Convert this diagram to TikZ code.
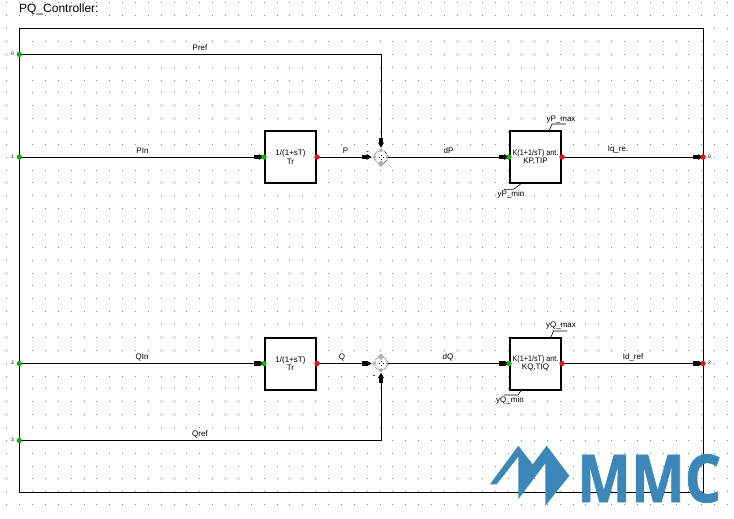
\documentclass[tikz,border=0pt]{standalone}
\usepackage{graphicx}
\usepackage{fontspec}
\setmainfont{Liberation Sans}
\newfontfamily\logofont[BoldFeatures={FakeBold=1.2}]{Open Sans}
\usetikzlibrary{arrows.meta,shapes.geometric}
\definecolor{logoblue}{HTML}{3A87B8}
\definecolor{inport}{HTML}{10B010}
\definecolor{outport}{HTML}{F01010}
\tikzset{
  wire/.style={line width=0.9pt,black},
  sig/.style={wire,-{Square[length=5pt,width=4.5pt,sep=0pt]Triangle[length=5pt,width=5.5pt]}},
  blockbox/.style={draw=black,line width=2pt,fill=white,minimum width=51pt,minimum height=52pt,inner sep=0pt,align=center,font=\fontsize{8}{8.6}\selectfont},
  port/.style={circle,inner sep=0pt,minimum size=5pt,fill=#1},
  lab/.style={inner sep=0pt,font=\fontsize{8}{9}\selectfont},
  tiny/.style={inner sep=0pt,font=\fontsize{5}{6}\selectfont},
  griddot/.style={fill=black!50},
  sumbody/.style={circle,draw=black,densely dotted,line width=0.6pt,fill=white,minimum size=13pt,inner sep=0pt},
  sumport/.style={diamond,fill=black!30,inner sep=0pt,minimum size=4.5pt},
  sumfree/.style={diamond,fill=black!30,inner sep=0pt,minimum size=7pt},
  leader/.style={line width=0.6pt,black},
}
\begin{document}
\begin{tikzpicture}[x=1pt,y=-1pt]
\useasboundingbox (0,0) rectangle (734,519);
\fill[white] (0,0) rectangle (734,519);
% drawing sheet grid
\foreach \i in {0,...,56}
  \foreach \j in {0,...,39}
    \fill[griddot] ({6.7+12.87*\i-0.4},{2.7+12.87*\j-0.4}) rectangle +(0.8,0.8);

\node[anchor=west,inner sep=0pt,font=\fontsize{12}{14}\selectfont] (title) at (19,9.5) {PQ\_Controller:};

% frame
\coordinate (fTL) at (19.3,28.3);
\coordinate (fTR) at (703,28.3);
\coordinate (fBR) at (703,492);
\coordinate (fBL) at (19.3,492);
\draw[wire] (fTL) -- (fTR) -- (fBR) -- (fBL) -- cycle;

% blocks
\node[blockbox] (tp) at (290.5,157) {1/(1+sT)\\Tr};
\node[blockbox] (tq) at (290.5,363.5) {1/(1+sT)\\Tr};
\node[blockbox] (pip) at (535.5,157) {\scalebox{0.9}[1]{K(1+1/sT) ant.}\\KP,TIP};
\node[blockbox] (piq) at (535.5,363.5) {\scalebox{0.9}[1]{K(1+1/sT) ant.}\\KQ,TIQ};

% summing points
\node[sumbody] (sp) at (381,157) {};
\node[sumbody] (sq) at (381,363.5) {};
\foreach \s in {sp,sq}{
  \foreach \a in {north,south,east,west}
    \node[sumport] at (\s.\a) {};
  \fill[black] (\s.center) ++(-2.5,-0.4) rectangle +(1,1);
  \fill[black] (\s.center) ++(1.5,-0.4) rectangle +(1,1);
  \fill[black] (\s.center) ++(-0.5,-2.4) rectangle +(1,1);
  \fill[black] (\s.center) ++(-0.5,1.6) rectangle +(1,1);
}
\node[sumfree] at (sp.south) {};
\node[sumfree] at (sq.north) {};

% ports on the frame
\node[port=inport] (in0) at (19.3,54.3) {};
\node[port=inport] (in1) at (19.3,157) {};
\node[port=inport] (in2) at (19.3,363.5) {};
\node[port=inport] (in3) at (19.3,440.5) {};
\node[port=outport] (out0) at (703,157) {};
\node[port=outport] (out2) at (703,363.5) {};

% ports on the blocks
\node[port=inport] (tpi) at (tp.west) {};
\node[port=outport] (tpo) at (tp.east) {};
\node[port=inport] (tqi) at (tq.west) {};
\node[port=outport] (tqo) at (tq.east) {};
\node[port=inport] (pipi) at (pip.west) {};
\node[port=outport] (pipo) at (pip.east) {};
\node[port=inport] (piqi) at (piq.west) {};
\node[port=outport] (piqo) at (piq.east) {};

% signals
\draw[sig,shorten >=2.5pt] (in0.center) -| (sp.north);
\draw[sig] (in1.center) -- (tpi.center);
\draw[sig,shorten >=2.5pt] (tpo.center) -- (sp.west);
\draw[sig] (sp.east) -- (pipi.center);
\draw[sig] (pipo.center) -- (out0.center);
\draw[sig] (in2.center) -- (tqi.center);
\draw[sig,shorten >=2.5pt] (tqo.center) -- (sq.west);
\draw[sig] (sq.east) -- (piqi.center);
\draw[sig] (piqo.center) -- (out2.center);
\draw[sig,shorten >=2.5pt] (in3.center) -| (sq.south);

% port dots sit above the wire ends
\foreach \n/\c in {in0/inport,in1/inport,in2/inport,in3/inport,tpi/inport,tqi/inport,pipi/inport,piqi/inport,tpo/outport,tqo/outport,pipo/outport,piqo/outport,out0/outport,out2/outport}
  \fill[\c] (\n) circle (2.5pt);

% signal names
\node[lab] (lpref) at (200,47.5) {Pref};
\node[lab] (lpin) at (142.5,151) {PIn};
\node[lab] (lp) at (345.5,151) {P};
\node[lab] (ldp) at (448.5,151) {dP};
\node[lab] (liq) at (618,150) {Iq\_re.};
\node[lab] (lqin) at (142,357) {QIn};
\node[lab] (lq) at (342,357) {Q};
\node[lab] (ldq) at (448,357) {dQ};
\node[lab] (lid) at (633,357) {Id\_ref};
\node[lab] (lqref) at (200,434) {Qref};
\node[lab,font=\fontsize{9}{9}\selectfont] (mp) at (367.5,153) {-};
\node[lab,font=\fontsize{9}{9}\selectfont] (mq) at (374,377) {-};

% limit labels with leaders
\node[lab] (ypmax) at (561,119.5) {yP\_max};
\node[lab] (ypmin) at (511,194.5) {yP\_min};
\node[lab] (yqmax) at (561,326) {yQ\_max};
\node[lab] (yqmin) at (510,400.5) {yQ\_min};
\draw[leader] (549,131) -- (552,124) -- (566,124);
\draw[leader] (522,183) -- (513.5,189.3) -- (504,189.3);
\draw[leader] (551,337) -- (553.5,331) -- (567,331);
\draw[leader] (522,389) -- (518,395) -- (504,395);

% port numbers
\node[tiny] at (12.5,54) {0};
\node[tiny] at (12.5,157) {1};
\node[tiny] at (12.5,363) {2};
\node[tiny] at (12.5,440) {3};
\node[tiny] at (709.5,157) {0};
\node[tiny] at (709.5,363) {2};

% logo
\fill[logoblue] (490,484.3) -- (496.7,484.3) -- (518.3,456.7) -- (518.3,499.3) -- (545.3,463.3) -- (545.3,506) -- (569.3,475.7) -- (546.7,445.7) -- (532.7,464.3) -- (518.3,445.7) -- cycle;
\node[anchor=west,inner sep=0pt,text=logoblue,xscale=0.865,font=\logofont\bfseries\fontsize{66}{66}\selectfont] (logo) at (577,478.5) {MMC};
\end{tikzpicture}
\end{document}
